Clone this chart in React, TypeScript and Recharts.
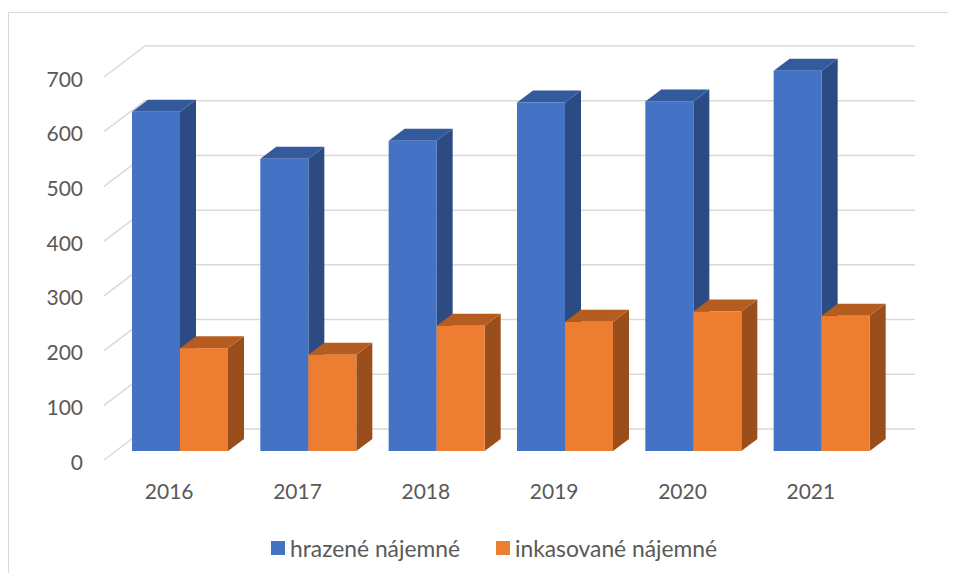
import React from 'react';
import { BarChart, Bar, XAxis, YAxis, CartesianGrid, Legend } from 'recharts';

const categories = ['2016', '2017', '2018', '2019', '2020', '2021'];
const paidRent = [620, 534, 567, 637, 639, 695];
const collectedRent = [188, 176, 229, 236, 255, 247];
const yTicks = [0, 100, 200, 300, 400, 500, 600, 700];
const seriesNames = ['hrazené nájemné', 'inkasované nájemné'];

const data = categories.map((c, i) => ({
  year: c,
  paid: paidRent[i],
  collected: collectedRent[i],
}));

const W = 948;
const H = 573;
const FONT = 'Lato, "Open Sans", sans-serif';
const TEXT = '#595959';
const GRID = '#d9d9d9';

// 3D offsets relative to the plane in which bars' front faces stand
const FRONT_DX = -12;
const FRONT_DY = 9;
const BACK_DX = 29;
const BACK_DY = -22;
const DEPTH_DX = 16;
const DEPTH_DY = -12;

const shades: Record<string, { side: string; top: string }> = {
  '#4472C4': { side: '#2B4B82', top: '#335A9C' },
  '#ED7D31': { side: '#9A4E1C', top: '#B55C21' },
};

const Bar3D = (props: any) => {
  const { x, y, width, height, fill } = props;
  if (width == null || height == null) return null;
  const s = shades[fill] || { side: fill, top: fill };
  const side = `M${x + width},${y} L${x + width + DEPTH_DX},${y + DEPTH_DY} L${x + width + DEPTH_DX},${y + height + DEPTH_DY} L${x + width},${y + height} Z`;
  const top = `M${x},${y} L${x + DEPTH_DX},${y + DEPTH_DY} L${x + width + DEPTH_DX},${y + DEPTH_DY} L${x + width},${y} Z`;
  return (
    <g>
      <path d={side} fill={s.side} />
      <path d={top} fill={s.top} />
      <rect x={x} y={y} width={width} height={height} fill={fill} />
    </g>
  );
};

const GridLine = (props: any) => {
  const { x1, x2, y1 } = props;
  const d = `M${x1 + FRONT_DX},${y1 + FRONT_DY} L${x1 + BACK_DX},${y1 + BACK_DY} L${x2 + BACK_DX},${y1 + BACK_DY}`;
  return <path key={props.key ?? `g-${y1}`} d={d} fill="none" stroke={GRID} strokeWidth={1.5} />;
};

const YTick = (props: any) => {
  const { y, payload } = props;
  return (
    <text x={75} y={y + FRONT_DY + 1} textAnchor="end" dominantBaseline="central" fill={TEXT} fontSize={21} fontFamily={FONT}>
      {payload.value}
    </text>
  );
};

const XTick = (props: any) => {
  const { x, payload } = props;
  return (
    <text x={x - 11} y={482} textAnchor="middle" dominantBaseline="central" fill={TEXT} fontSize={21} fontFamily={FONT}>
      {payload.value}
    </text>
  );
};

const LegendContent = (props: any) => {
  const { payload } = props;
  return (
    <div style={{ display: 'flex', alignItems: 'center', gap: 36, fontFamily: FONT, fontSize: 22.8, color: TEXT, whiteSpace: 'nowrap' }}>
      {(payload || []).map((e: any) => (
        <div key={e.value} style={{ display: 'flex', alignItems: 'center' }}>
          <span style={{ display: 'inline-block', width: 14, height: 14, background: e.color, marginRight: 5 }} />
          <span>{e.value}</span>
        </div>
      ))}
    </div>
  );
};

export default function App() {
  return (
    <div style={{ position: 'relative', width: W, height: H, overflow: 'hidden', marginBottom: -8, background: '#fff' }}>
      <div style={{ position: 'absolute', left: 0, top: 4, width: 2000, height: 2000, borderTop: '1px solid #d9d9d9', borderLeft: '1px solid #d9d9d9' }} />
      <div style={{ position: 'absolute', left: 0, top: 0 }}>
        <BarChart width={W} height={H} data={data} margin={{ top: 60, right: 70, left: 48, bottom: 100 }} barSize={48} barGap={0}>
          <CartesianGrid vertical={false} horizontal={GridLine} />
          <XAxis dataKey="year" axisLine={false} tickLine={false} tick={XTick} height={30} interval={0} />
          <YAxis domain={[0, 700]} ticks={yTicks} axisLine={false} tickLine={false} tick={YTick} width={60} />
          <Legend
            layout="horizontal"
            verticalAlign="middle"
            align="center"
            content={LegendContent}
            wrapperStyle={{ left: 263, top: 526, width: 'auto' }}
          />
          <Bar dataKey="paid" name={seriesNames[0]} fill="#4472C4" shape={Bar3D} isAnimationActive={false} />
          <Bar dataKey="collected" name={seriesNames[1]} fill="#ED7D31" shape={Bar3D} isAnimationActive={false} />
        </BarChart>
      </div>
    </div>
  );
}
